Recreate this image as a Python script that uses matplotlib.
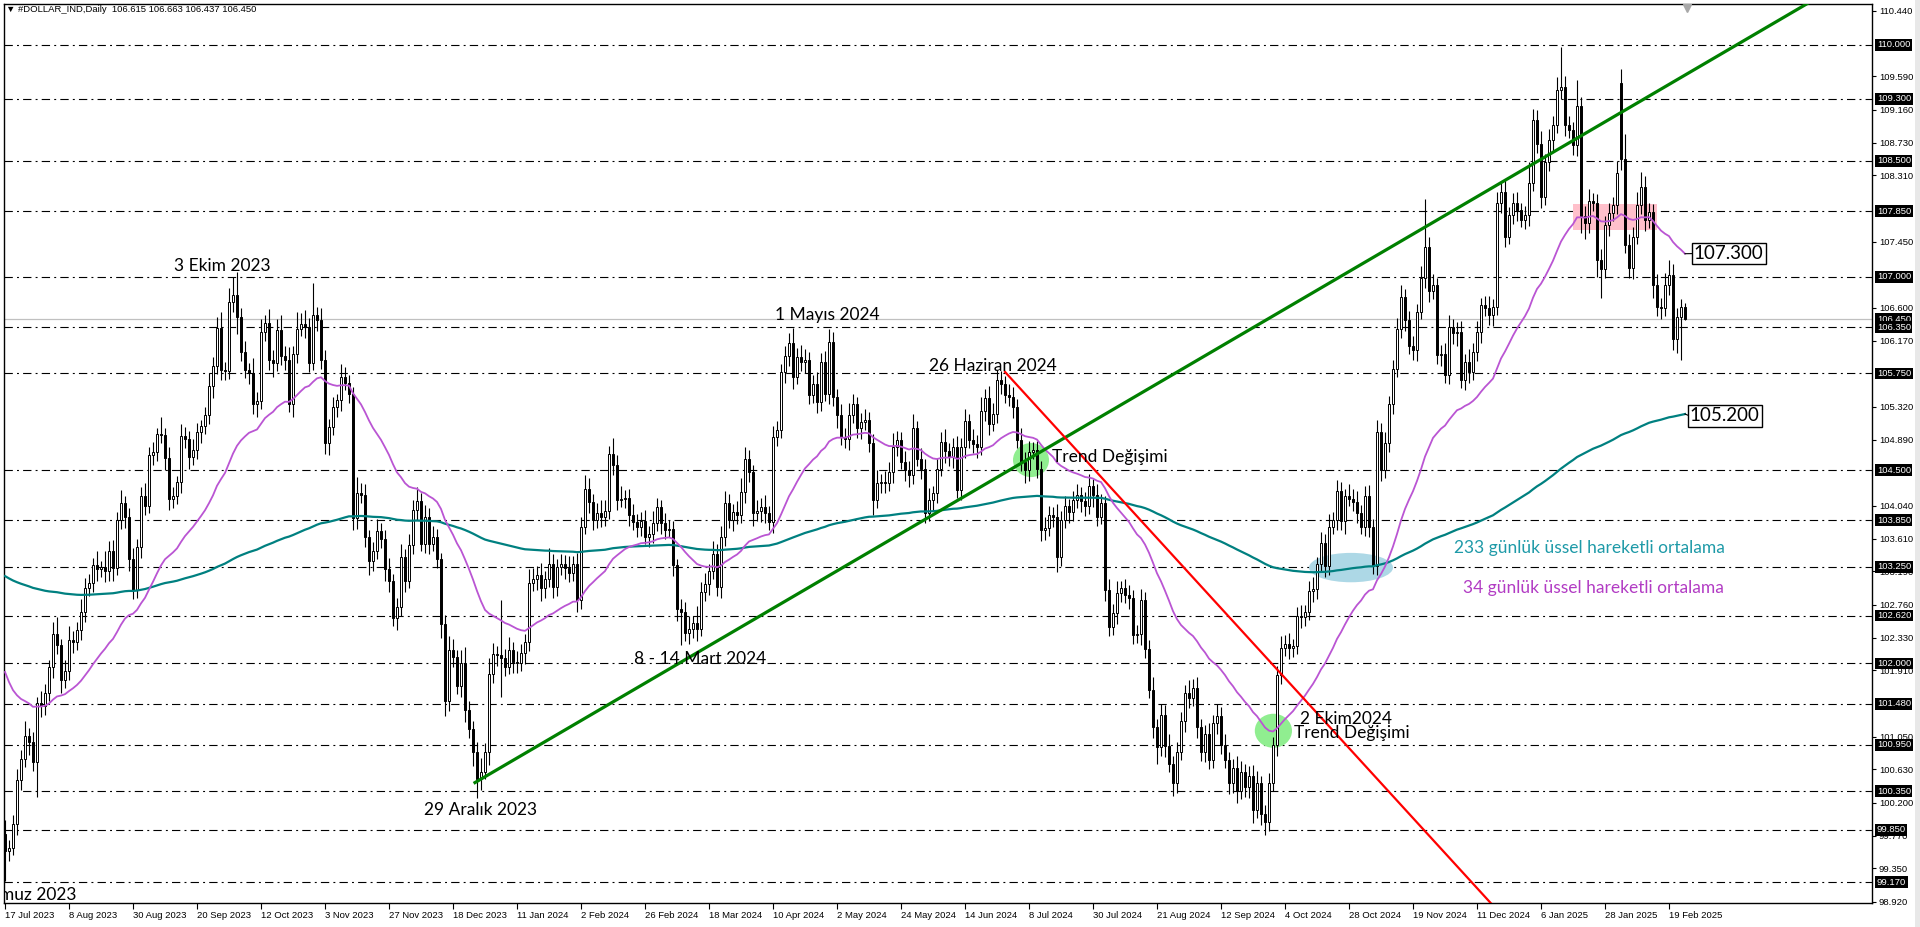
import numpy as np
import matplotlib.pyplot as plt
from matplotlib.patches import Ellipse, Rectangle

plt.rcParams['font.family'] = ['Liberation Sans', 'DejaVu Sans']
plt.rcParams['lines.scale_dashes'] = False

# -------------------------
# 1. DATA (daily bars from 17 Jul 2023)
# -------------------------
closes = [
    99.57, 99.62, 99.92, 100.49, 100.76, 101.06, 100.98, 100.73, 101.49, 101.45,
    101.62, 101.95, 102.38, 102.24, 101.78, 101.90, 102.30, 102.28, 102.43, 102.67,
    102.97, 103.04, 103.27, 103.22, 103.25, 103.19, 103.46, 103.24, 103.86, 104.08,
    103.89, 103.35, 102.95, 103.51, 104.16, 104.04, 104.70, 104.74, 104.97, 104.95,
    104.66, 104.13, 104.16, 104.35, 104.94, 104.90, 104.67, 104.76, 104.99, 105.07,
    105.21, 105.59, 105.84, 106.34, 105.80, 105.78, 106.68, 106.76, 106.48, 106.03,
    105.79, 105.75, 105.35, 105.39, 106.29, 106.40, 105.93, 105.88, 106.31, 105.98,
    105.93, 105.35, 106.00, 106.33, 106.39, 106.35, 105.89, 106.51, 106.44, 105.93,
    104.85, 105.06, 105.31, 105.41, 105.71, 105.63, 105.49, 103.88, 104.21, 104.18,
    103.63, 103.33, 103.45, 103.71, 103.61, 103.22, 103.06, 102.59, 102.73, 103.38,
    103.07, 103.53, 103.99, 104.10, 103.55, 103.89, 103.55, 103.64, 103.35, 102.51,
    101.52, 102.18, 102.08, 101.71, 102.01, 101.40, 101.15, 100.85, 100.50, 100.60,
    100.85, 101.87, 102.12, 102.11, 102.07, 101.96, 102.18, 102.02, 102.00, 102.13,
    102.28, 103.04, 103.09, 103.14, 102.97, 103.09, 103.29, 102.99, 103.25, 103.28,
    103.23, 103.17, 103.29, 102.82, 103.77, 104.26, 104.09, 103.85, 103.95, 103.90,
    103.97, 104.71, 104.56, 104.12, 104.13, 104.14, 103.92, 103.83, 103.77, 103.84,
    103.64, 103.68, 103.81, 104.02, 103.81, 103.73, 103.74, 103.27, 102.71, 102.66,
    102.39, 102.45, 102.52, 102.45, 102.93, 103.03, 103.19, 103.42, 102.99, 103.64,
    104.07, 103.85, 103.96, 103.92, 104.22, 104.64, 104.47, 103.94, 103.97, 104.02,
    103.94, 103.83, 104.93, 105.02, 105.77, 105.97, 106.14, 105.71, 105.96, 105.90,
    105.93, 105.47, 105.61, 105.38, 105.90, 105.49, 106.16, 105.45, 105.21, 104.93,
    104.90, 105.21, 105.35, 105.04, 105.12, 105.15, 104.85, 104.11, 104.34, 104.35,
    104.33, 104.48, 104.80, 104.89, 104.61, 104.50, 104.44, 105.04, 104.65, 104.52,
    103.94, 104.11, 104.20, 104.52, 104.87, 104.75, 104.67, 104.80, 104.24, 104.80,
    105.13, 104.89, 104.84, 104.80, 105.26, 105.43, 105.10, 105.23, 105.66, 105.62,
    105.47, 105.45, 105.32, 104.89, 104.61, 104.50, 104.74, 104.76, 104.52, 103.72,
    103.75, 103.92, 103.90, 103.38, 103.85, 104.03, 103.96, 104.11, 104.18, 104.10,
    104.03, 104.29, 104.18, 103.90, 104.07, 102.95, 102.47, 102.65, 102.91, 102.97,
    102.88, 102.85, 102.37, 102.38, 102.82, 102.19, 101.66, 101.18, 100.92, 101.34,
    100.93, 100.70, 100.45, 100.85, 101.25, 101.62, 101.55, 101.68, 101.18, 100.86,
    101.09, 100.75, 101.23, 101.32, 100.95, 100.75, 100.45, 100.65, 100.35, 100.60,
    100.40, 100.55, 100.10, 100.45, 100.05, 99.95, 100.45, 100.95, 101.85, 102.20,
    102.25, 102.20, 102.22, 102.61, 102.60, 102.66, 102.94, 102.96, 103.28, 103.56,
    103.26, 103.77, 103.86, 104.23, 103.84, 104.16, 104.13, 104.09, 103.95, 103.77,
    104.17, 103.77, 103.26, 104.99, 104.50, 104.85, 105.36, 105.81, 106.33, 106.74,
    106.44, 106.10, 106.05, 106.55, 106.98, 107.39, 106.81, 106.89, 105.99, 106.00,
    105.73, 106.35, 106.27, 106.29, 105.66, 105.90, 105.77, 106.03, 106.29, 106.63,
    106.59, 106.50, 106.61, 107.95, 108.09, 107.52, 107.80, 107.96, 107.86, 107.74,
    107.80, 108.21, 109.03, 108.72, 108.03, 108.49, 108.77, 108.96, 109.42, 109.45,
    108.96, 108.90, 108.70, 109.21, 107.78, 107.69, 107.98, 107.95, 107.22, 107.10,
    107.67, 107.82, 107.93, 108.34, 108.52, 107.41, 107.11, 107.52, 107.93, 108.16,
    107.73, 107.84, 106.89, 106.61, 106.59, 106.89, 107.02, 106.19, 106.48, 106.615,
    106.45,
]
# bars whose open is not the previous close (weekend gaps)
gap_opens = {0: 99.80, 404: 109.50}

# wick lengths in 1/100 of a point
up_wick = [
    18, 10, 12, 15, 12, 20, 10, 14, 8, 16, 12, 10, 15, 22, 8, 14, 18, 12, 10, 16,
    14, 12, 10, 18, 8, 20, 12, 14, 10, 16, 8, 12, 14, 10, 12, 18, 10, 12, 8, 22,
    10, 14, 12, 8, 16, 12, 10, 14, 12, 8, 10, 16, 12, 14, 20, 10, 18, 24, 30, 12,
    14, 10, 20, 12, 16, 10, 18, 12, 14, 20, 12, 16, 10, 22, 14, 18, 12, 41, 10, 15,
    12, 10, 14, 8, 16, 12, 10, 8, 20, 12, 14, 10, 12, 16, 10, 12, 14, 10, 12, 16,
    10, 14, 12, 18, 10, 16, 12, 14, 10, 8, 12, 18, 14, 10, 16, 20, 12, 10, 14, 18,
    12, 20, 14, 10, 71, 12, 16, 10, 14, 12, 10, 18, 14, 12, 16, 10, 20, 12, 10, 14,
    12, 16, 10, 14, 12, 18, 14, 10, 12, 16, 14, 10, 20, 14, 16, 10, 12, 14, 10, 12,
    14, 10, 16, 12, 10, 14, 12, 10, 8, 12, 14, 16, 10, 22, 12, 14, 10, 16, 12, 14,
    16, 12, 10, 14, 18, 16, 12, 10, 14, 12, 16, 10, 14, 12, 10, 14, 13, 20, 12, 16,
    14, 10, 12, 16, 12, 14, 16, 12, 10, 14, 12, 16, 14, 10, 12, 14, 10, 12, 16, 10,
    14, 12, 18, 12, 10, 14, 12, 18, 10, 14, 12, 16, 10, 14, 12, 16, 10, 12, 14, 12,
    16, 10, 14, 12, 18, 12, 16, 14, 14, 12, 10, 14, 12, 10, 16, 12, 14, 10, 12, 10,
    14, 12, 10, 16, 12, 14, 10, 12, 14, 10, 12, 16, 10, 14, 12, 10, 14, 12, 16, 10,
    12, 14, 10, 12, 14, 10, 12, 16, 10, 14, 12, 16, 10, 14, 12, 10, 16, 12, 14, 10,
    12, 14, 10, 16, 12, 14, 10, 12, 16, 14, 10, 12, 14, 16, 10, 12, 14, 10, 12, 16,
    12, 14, 10, 12, 14, 10, 12, 16, 10, 14, 12, 16, 10, 14, 12, 10, 16, 12, 14, 10,
    12, 14, 10, 16, 12, 14, 10, 12, 14, 16, 10, 12, 14, 10, 16, 62, 12, 14, 10, 12,
    14, 16, 10, 12, 14, 10, 16, 12, 14, 10, 12, 16, 10, 14, 12, 16, 10, 12, 14, 10,
    12, 28, 14, 12, 16, 10, 14, 12, 16, 52, 14, 12, 10, 33, 12, 14, 16, 10, 12, 14,
    12, 14, 10, 16, 19, 33, 14, 12, 16, 20, 14, 12, 10, 14, 12, 16, 20, 14, 12, 10, 5,
]
down_wick = [
    38, 12, 10, 14, 12, 10, 16, 12, 46, 14, 12, 10, 14, 12, 16, 10, 12, 14, 10, 12,
    14, 10, 12, 16, 10, 14, 12, 18, 10, 12, 14, 16, 12, 10, 14, 12, 10, 14, 12, 10,
    16, 14, 12, 10, 14, 12, 16, 10, 12, 14, 10, 12, 16, 10, 14, 12, 10, 14, 22, 12,
    10, 14, 12, 16, 10, 12, 14, 18, 10, 12, 14, 10, 16, 12, 10, 14, 12, 10, 14, 12,
    14, 16, 10, 12, 14, 10, 12, 16, 14, 10, 12, 18, 14, 10, 12, 16, 14, 10, 16, 12,
    14, 10, 12, 14, 10, 12, 14, 10, 12, 18, 20, 14, 12, 10, 14, 16, 12, 18, 24, 14,
    10, 16, 12, 14, 50, 12, 10, 14, 12, 10, 14, 12, 10, 14, 16, 12, 10, 14, 12, 10,
    14, 12, 10, 16, 12, 10, 14, 12, 10, 14, 12, 10, 12, 14, 10, 12, 14, 10, 14, 12,
    10, 14, 12, 10, 14, 12, 10, 14, 16, 42, 10, 14, 12, 16, 10, 12, 14, 10, 12, 14,
    12, 10, 14, 12, 10, 14, 12, 16, 10, 14, 12, 10, 14, 12, 10, 14, 12, 16, 10, 12,
    14, 12, 10, 14, 12, 10, 14, 12, 16, 10, 12, 14, 10, 12, 14, 10, 12, 19, 10, 14,
    12, 10, 14, 12, 10, 14, 16, 12, 10, 14, 12, 10, 14, 12, 10, 16, 12, 14, 10, 12,
    14, 10, 12, 14, 10, 12, 14, 10, 12, 14, 10, 12, 14, 10, 12, 16, 14, 10, 12, 14,
    12, 10, 14, 20, 12, 10, 14, 12, 10, 14, 12, 10, 16, 12, 10, 14, 12, 10, 14, 12,
    10, 14, 12, 10, 14, 12, 10, 14, 22, 12, 14, 10, 16, 12, 10, 14, 12, 10, 14, 12,
    14, 12, 10, 14, 12, 10, 14, 12, 16, 10, 12, 14, 16, 10, 14, 17, 12, 10, 14, 12,
    10, 14, 12, 10, 14, 12, 10, 14, 12, 10, 14, 12, 10, 14, 12, 16, 10, 12, 14, 10,
    12, 14, 10, 12, 14, 10, 12, 14, 10, 12, 14, 10, 12, 14, 10, 12, 14, 10, 12, 14,
    10, 12, 14, 16, 10, 12, 14, 10, 12, 14, 10, 12, 14, 10, 12, 14, 10, 12, 14, 10,
    12, 14, 10, 12, 14, 10, 12, 14, 10, 12, 14, 10, 12, 14, 22, 20, 12, 10, 22, 38,
    12, 14, 10, 12, 14, 10, 12, 14, 10, 12, 14, 10, 16, 12, 14, 10, 12, 14, 18, 55, 1,
]

# EMA values at the first bar (indicator history before the visible window)
ema34_start = 101.89
ema233_start = 103.13

date_bars = [0, 16, 32, 48, 64, 80, 96, 112, 128, 144, 160, 176, 192, 208,
             224, 240, 256, 272, 288, 304, 320, 336, 352, 368, 384, 400, 416]
date_labels = ["17 Jul 2023", "8 Aug 2023", "30 Aug 2023", "20 Sep 2023",
               "12 Oct 2023", "3 Nov 2023", "27 Nov 2023", "18 Dec 2023",
               "11 Jan 2024", "2 Feb 2024", "26 Feb 2024", "18 Mar 2024",
               "10 Apr 2024", "2 May 2024", "24 May 2024", "14 Jun 2024",
               "8 Jul 2024", "30 Jul 2024", "21 Aug 2024", "12 Sep 2024",
               "4 Oct 2024", "28 Oct 2024", "19 Nov 2024", "11 Dec 2024",
               "6 Jan 2025", "28 Jan 2025", "19 Feb 2025"]

price_ticks = ["110.440", "109.590", "109.160", "108.730", "108.310", "107.450",
               "106.600", "106.170", "105.320", "104.890", "104.040", "103.610",
               "103.190", "102.760", "102.330", "101.910", "101.050", "100.630",
               "100.200", "99.770", "99.350", "98.920"]

levels = [110.00, 109.30, 108.50, 107.85, 107.00, 106.35, 105.75, 104.50, 103.85,
          103.25, 102.62, 102.00, 101.48, 100.95, 100.35, 99.85, 99.17]
last_price = 106.45

# trend lines (bar, price)
green_line = [(117.5, 100.46), (470.0, 111.12)]
red_line = [(250.0, 105.77), (372.0, 98.87)]

# notes on the chart: (text, bar, price, align)
notes = [
    ("3 Ekim 2023", 54.3, 107.14, "center"),
    ("1 Mayıs 2024", 205.7, 106.51, "center"),
    ("26 Haziran 2024", 247.0, 105.85, "center"),
    ("Trend Değişimi", 261.7, 104.67, "left"),
    ("8 - 14 Mart 2024", 173.9, 102.06, "center"),
    ("29 Aralık 2023", 119.0, 100.10, "center"),
    ("2 Ekim2024", 323.7, 101.28, "left"),
    ("Trend Değişimi", 322.2, 101.10, "left"),
    ("Temmuz 2023", 17.8, 99.01, "right"),
]
ema_notes = [("233 günlük üssel hareketli ortalama", 396.0, 103.49, "#1E9AA8"),
             ("34 günlük üssel hareketli ortalama", 397.0, 102.98, "#B23CC4")]
ema_boxes = [("107.300", 107.30, 422.2), ("105.200", 105.20, 421.2)]

# highlight shapes: (bar, price, width in bars, height in price)
green_spots = [(256.5, 104.63, 9.0, 0.44), (317.1, 101.13, 9.3, 0.44)]
blue_spot = (336.5, 103.24, 21.0, 0.38)
pink_box = (391.9, 107.60, 21.0, 0.34)

# -------------------------
# 2. CANDLES AND INDICATORS
# -------------------------
c = np.array(closes)
o = np.concatenate([[c[0]], c[:-1]])
for i, v in gap_opens.items():
    o[i] = v
h = np.maximum(o, c) + np.array(up_wick) / 100.0
l = np.minimum(o, c) - np.array(down_wick) / 100.0
x = np.arange(len(c))


def ema(values, period, start):
    alpha = 2.0 / (period + 1)
    out = [start]
    for v in values[1:]:
        out.append(out[-1] + alpha * (v - out[-1]))
    return np.array(out)


ema34 = ema(c, 34, ema34_start)
ema233 = ema(c, 233, ema233_start)

# -------------------------
# 3. FIGURE
# -------------------------
fig = plt.figure(figsize=(19.2, 9.27), dpi=100)
ax = fig.add_axes([4 / 1920, 24 / 927, 1868 / 1920, 899 / 927])
ax.set_xlim(-0.25, 466.75)
ax.set_ylim(98.903, 110.527)

for lv in levels:
    ax.axhline(lv, color="black", lw=0.8, dashes=(6, 3, 1.4, 3), zorder=1)
ax.axhline(last_price, color="#C0C0C0", lw=0.9, zorder=1)

for bx, py, w, hh in green_spots:
    ax.add_patch(Ellipse((bx, py), w, hh, color="#90EE90", lw=0, zorder=2))
ax.add_patch(Ellipse(blue_spot[:2], blue_spot[2], blue_spot[3], color="#ADD8E6", lw=0, zorder=2))
ax.add_patch(Rectangle(pink_box[:2], pink_box[2], pink_box[3], color="#FFC0CB", lw=0, zorder=2))

ax.vlines(x, l, h, color="black", lw=0.8, zorder=3)
bull = c >= o
ax.bar(x[bull], (c - o)[bull], bottom=o[bull], width=0.62, color="white",
       edgecolor="black", linewidth=0.7, zorder=4)
ax.bar(x[~bull], (o - c)[~bull], bottom=c[~bull], width=0.62, color="black",
       edgecolor="black", linewidth=0.7, zorder=4)

ax.plot(x, ema233, color="#008080", lw=1.6, zorder=5)
ax.plot(x, ema34, color="#BA55D3", lw=1.3, zorder=5)

ax.plot(*zip(*green_line), color="#008000", lw=2.3, zorder=6)
ax.plot(*zip(*red_line), color="#FF0000", lw=1.6, zorder=6)

for txt, bx, py, ha in notes:
    ax.text(bx, py, txt, ha=ha, va="center", fontsize=12.5, color="black",
            family=["Lato", "DejaVu Sans"], zorder=7, clip_on=True)
for txt, bx, py, col in ema_notes:
    ax.text(bx, py, txt, ha="center", va="center", fontsize=12.5, color=col,
            family=["Lato", "DejaVu Sans"], zorder=7)

for (txt, py, bx), line in zip(ema_boxes, [ema34, ema233]):
    ax.plot([x[-1], bx], [line[-1], py], color="black", lw=0.8, zorder=6)
    ax.text(bx, py, txt, ha="left", va="center", fontsize=13.5, color="black",
            family=["Lato", "DejaVu Sans"], zorder=8,
            bbox=dict(boxstyle="square,pad=0.12", fc="white", ec="black", lw=1))

# MT4 shift marker
ax.plot(x[-1] + 0.5, 110.47, marker="v", color="#A8A8A8", ms=6, zorder=8)

# -------------------------
# 4. AXES
# -------------------------
for sp in ax.spines.values():
    sp.set_color("black")
    sp.set_linewidth(1.0)

ax.yaxis.tick_right()
ax.set_yticks([float(t) for t in price_ticks])
ax.set_yticklabels(price_ticks)
ax.tick_params(axis="y", direction="out", length=3, width=0.8, pad=2,
               labelsize=6.8, colors="black")
ax.set_xticks(date_bars)
ax.set_xticklabels(date_labels)
ax.tick_params(axis="x", direction="out", length=4, width=0.8, pad=2,
               labelsize=6.8, colors="black")
for lab in ax.get_xticklabels():
    lab.set_horizontalalignment("left")

# current price box first, the level boxes are drawn over it
label_list = [(last_price, "%.3f" % last_price)] + [(lv, "%.3f" % lv) for lv in levels]
for lv, txt in label_list:
    ax.annotate(txt, xy=(1.0, lv), xycoords=("axes fraction", "data"),
                xytext=(3.5, 0), textcoords="offset points", ha="left", va="center",
                fontsize=6.8, color="white", annotation_clip=False, zorder=10,
                bbox=dict(boxstyle="square,pad=0.15", fc="black", ec="none"))

fig.text(6 / 1920, 1 - 9 / 927, "▼ #DOLLAR_IND,Daily  106.615 106.663 106.437 106.450",
         fontsize=6.8, va="center", ha="left", color="black")
fig.add_artist(Rectangle((1915 / 1920, 0), 5 / 1920, 1, transform=fig.transFigure,
                         color="#E8E8E8", lw=0))

fig.savefig("out.png", dpi=100)
